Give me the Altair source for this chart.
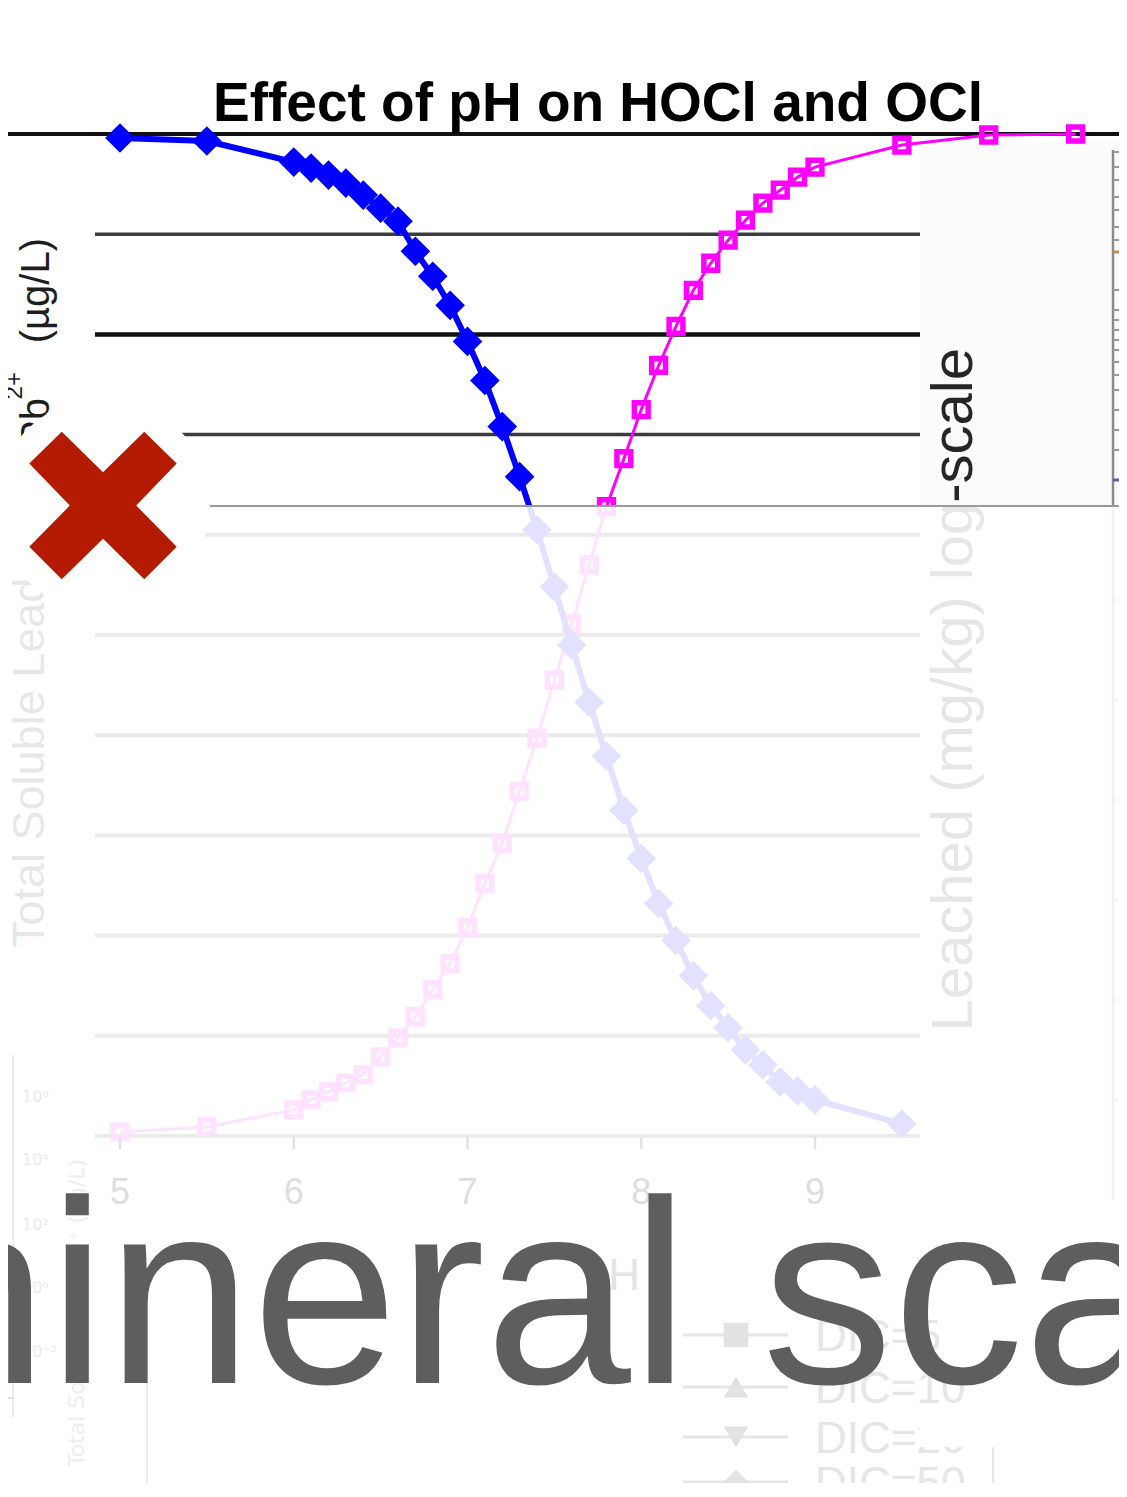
import altair as alt
import pandas as pd

# ---------------- data ----------------
ph_hocl = [5.0, 5.5, 6.0, 6.1, 6.2, 6.3, 6.4, 6.5, 6.6, 6.7, 6.8, 6.9,
           7.0, 7.1, 7.2, 7.3, 7.4, 7.5, 7.6, 7.7, 7.8, 7.9,
           8.0, 8.1, 8.2, 8.3, 8.4, 8.5, 8.6, 8.7, 8.8, 8.9, 9.0, 9.5]
hocl_pct = [99.6, 99.3, 97.2, 96.6, 95.9, 95.1, 93.9, 92.6, 91.3, 88.3, 85.8, 82.9,
            79.3, 75.4, 70.8, 65.8, 60.5, 54.8, 49.0, 43.3, 37.9, 32.5,
            27.7, 23.2, 19.5, 16.0, 13.0, 10.8, 8.6, 7.1, 5.4, 4.5, 3.6, 1.2]

ph_ocl = [5.0, 5.5, 6.0, 6.1, 6.2, 6.3, 6.4, 6.5, 6.6, 6.7, 6.8, 6.9,
          7.0, 7.1, 7.2, 7.3, 7.4, 7.5, 7.6, 7.7, 7.8, 7.9,
          8.0, 8.1, 8.2, 8.3, 8.4, 8.5, 8.6, 8.7, 8.8, 8.9, 9.0, 9.5, 10.0, 10.5]
ocl_pct = [0.4, 0.9, 2.6, 3.6, 4.4, 5.3, 6.1, 7.9, 9.8, 11.9, 14.6, 17.2,
           20.8, 25.2, 29.2, 34.4, 39.7, 45.5, 51.1, 57.0, 62.8, 67.6,
           72.5, 76.9, 80.8, 84.4, 87.1, 89.4, 91.4, 93.1, 94.4, 95.7, 96.7, 98.9, 99.9, 100.0]

grid_dark = [90, 70]
grid_black = [80]
grid_faded = [60, 50, 40, 30, 20, 10, 0]
grid_top = [100]

x_ticks = [5, 6, 7, 8, 9]
x_tick_labels = ["5", "6", "7", "8", "9"]

legend_labels = ["DIC=5", "DIC=10", "DIC=20", "DIC=50"]
legend_shapes = ["square", "triangle-up", "triangle-down", "diamond"]

inset_labels = ["10⁶", "10⁴", "10²", "10⁰", "10⁻²"]

title_text = "Effect of pH on HOCl and OCl"
left_label_main = "(µg/L)"
left_label_pb = "Pb"
left_label_sup = "2+"
left_label_faded = "Total Soluble Lead"
right_label = "Leached (mg/kg) log-scale"
banner_text = "mineral scale"

# ---------------- layout ----------------
W, H = 1111, 1475
OFF = 8  # page margin


def px(v):
    return v - OFF


xsc = alt.Scale(domain=[4.35540, 10.74964], nice=False, zero=False)
ysc = alt.Scale(domain=[100 - (H - 126) / 10.02, 112.5749], nice=False, zero=False)
one = pd.DataFrame({"d": [0]})


def rect(x1, y1, x2, y2, color, opacity=1.0):
    return alt.Chart(one).mark_rect(color=color, opacity=opacity, strokeWidth=0).encode(
        x=alt.value(px(x1)), x2=alt.value(px(x2)), y=alt.value(px(y1)), y2=alt.value(px(y2)))


def seg(x1, y1, x2, y2, color, width):
    return alt.Chart(one).mark_rule(color=color, strokeWidth=width).encode(
        x=alt.value(px(x1)), x2=alt.value(px(x2)), y=alt.value(px(y1)), y2=alt.value(px(y2)))


def txt(s, x, y, size, color, font="Liberation Sans", weight="normal", angle=0,
        align="left", baseline="alphabetic"):
    return alt.Chart(one).mark_text(
        text=s, font=font, fontSize=size, fontWeight=weight, color=color,
        angle=angle, align=align, baseline=baseline).encode(
        x=alt.value(px(x)), y=alt.value(px(y)))


def hgrid(vals, x1, x2, color, width):
    return alt.Chart(pd.DataFrame({"v": vals})).mark_rule(color=color, strokeWidth=width).encode(
        y=alt.Y("v:Q", scale=ysc, axis=None),
        x=alt.value(px(x1)), x2=alt.value(px(x2)))


layers = []

# grid lines
layers.append(hgrid(grid_top, 0, 1127, "#111111", 4))
layers.append(hgrid(grid_dark, 95, 920, "#3c3c3c", 3.5))
layers.append(hgrid(grid_black, 95, 920, "#111111", 4.5))
layers.append(hgrid(grid_faded, 95, 920, "#555555", 4))

# right panel (from another picture)
layers.append(rect(920, 142, 1127, 1497, "#fbfbfb"))
layers.append(seg(1113, 150, 1113, 1200, "#8a8a8a", 2.5))
panel_ticks = [152, 167, 180, 197, 210, 227, 240, 290, 310, 320, 330, 340, 350, 362,
               375, 390, 410, 430, 450, 600, 700, 800, 900, 1000, 1100]
for t in panel_ticks:
    layers.append(seg(1113, t, 1124, t, "#9a9a9a", 2))
layers.append(seg(1113, 252, 1127, 252, "#c98a50", 3))
layers.append(seg(1113, 480, 1127, 480, "#5a5ab0", 3))
layers.append(txt(right_label, 955, 348, 58, "#262626", angle=270, align="right",
                  baseline="middle"))

# left labels
layers.append(txt(left_label_main, 37, 238, 40, "#1e1e1e", angle=270, align="right",
                  baseline="middle"))
layers.append(txt(left_label_sup, 15, 372, 24, "#1e1e1e", angle=270, align="right",
                  baseline="middle"))
layers.append(txt(left_label_pb, 37, 398, 40, "#1e1e1e", angle=270, align="right",
                  baseline="middle"))
layers.append(txt(left_label_faded, 30, 948, 45, "#333333", angle=270, align="left",
                  baseline="middle"))

# series
blue_df = pd.DataFrame({"pH": ph_hocl, "pct": hocl_pct})
mag_df = pd.DataFrame({"pH": ph_ocl, "pct": ocl_pct})
enc = dict(x=alt.X("pH:Q", scale=xsc, axis=None), y=alt.Y("pct:Q", scale=ysc, axis=None))
layers.append(alt.Chart(mag_df).mark_line(color="#ff00ff", strokeWidth=3).encode(**enc))
layers.append(alt.Chart(mag_df).mark_point(shape="square", filled=False, color="#ff00ff",
                                           strokeWidth=5.5, size=190, opacity=1).encode(**enc))
layers.append(alt.Chart(blue_df).mark_line(color="#0000ff", strokeWidth=6).encode(**enc))
layers.append(alt.Chart(blue_df).mark_point(shape="diamond", filled=True, color="#0000ff",
                                            size=880, opacity=1).encode(**enc))

# title
layers.append(txt(title_text, 598, 121, 55, "#000000", font="Liberation Sans",
                  weight="bold", align="center"))

# fade of the lower part
layers.append(rect(0, 507, 1127, 1497, "#ffffff", 0.885))
layers.append(seg(210, 506, 1127, 506, "#9a9a9a", 2))

# faint x tick marks and labels
layers.append(alt.Chart(pd.DataFrame({"t": x_ticks})).mark_rule(color="#e2e2e2", strokeWidth=2.5).encode(
    x=alt.X("t:Q", scale=xsc, axis=None), y=alt.value(px(1137)), y2=alt.value(px(1149))))
layers.append(alt.Chart(pd.DataFrame({"t": x_ticks, "lab": x_tick_labels})).mark_text(
    font="Liberation Sans", fontSize=36, color="#dedede",
    baseline="alphabetic", align="center").encode(
    x=alt.X("t:Q", scale=xsc, axis=None), y=alt.value(px(1204)), text="lab:N"))
layers.append(txt("pH", 612, 1290, 44, "#e4e4e4", font="Liberation Sans", align="center"))

# faint inset at the bottom left
layers.append(seg(13, 1055, 13, 1418, "#ececec", 2))
layers.append(seg(147, 1383, 147, 1497, "#eeeeee", 2))
layers.append(seg(0, 1398, 14, 1398, "#f2d9d9", 2))
inset_y = [1102, 1165, 1230, 1293, 1357]
for lab, yy in zip(inset_labels, inset_y):
    layers.append(txt(lab, 22, yy, 16, "#ebebeb", font="DejaVu Sans"))
layers.append(txt("Total Soluble Pb(OH)⁺ (µg/L)", 77, 1467, 22, "#eeeeee", font="DejaVu Sans",
                  angle=270, align="left", baseline="middle"))

# faint legend at the bottom right
leg_y = [1335, 1387, 1437, 1482]
for lab, shp, yy in zip(legend_labels, legend_shapes, leg_y):
    layers.append(seg(683, yy, 788, yy, "#e6e6e6", 3))
    layers.append(alt.Chart(one).mark_point(shape=shp, filled=True, color="#e2e2e2", size=600,
                                            opacity=1).encode(x=alt.value(px(736)), y=alt.value(px(yy))))
    layers.append(txt(lab, 815, yy + 16, 44, "#e6e6e6", font="Liberation Sans"))
layers.append(rect(920, 1407, 1033, 1447, "#ffffff"))
layers.append(seg(993, 1447, 993, 1497, "#e8e8e8", 2))

# white disk and red cross
layers.append(alt.Chart(one).mark_point(shape="circle", filled=True, color="#ffffff", size=45796,
                                        opacity=1, strokeWidth=0).encode(
    x=alt.value(px(103)), y=alt.value(px(505))))
cross_path = ("M -1 -0.57 L -0.56 -1 L 0 -0.45 L 0.56 -1 L 1 -0.57 L 0.45 0 L 1 0.56 "
              "L 0.56 1 L 0 0.45 L -0.56 1 L -1 0.56 L -0.45 0 Z")
layers.append(alt.Chart(one).mark_point(shape=cross_path, filled=True, color="#b31a00", size=21727,
                                        opacity=1, strokeWidth=0).encode(
    x=alt.value(px(103)), y=alt.value(px(505.5))))

# big banner text
layers.append(txt(banner_text, -170, 1383, 262, "#5e5e5e", font="Liberation Sans"))

chart = alt.layer(*layers).properties(
    width=W, height=H, padding=0, background="#ffffff",
    autosize=alt.AutoSizeParams(type="none"),
).configure_view(stroke=None, strokeWidth=0)

chart.save("out.html", embed_options={"renderer": "svg", "actions": False})
